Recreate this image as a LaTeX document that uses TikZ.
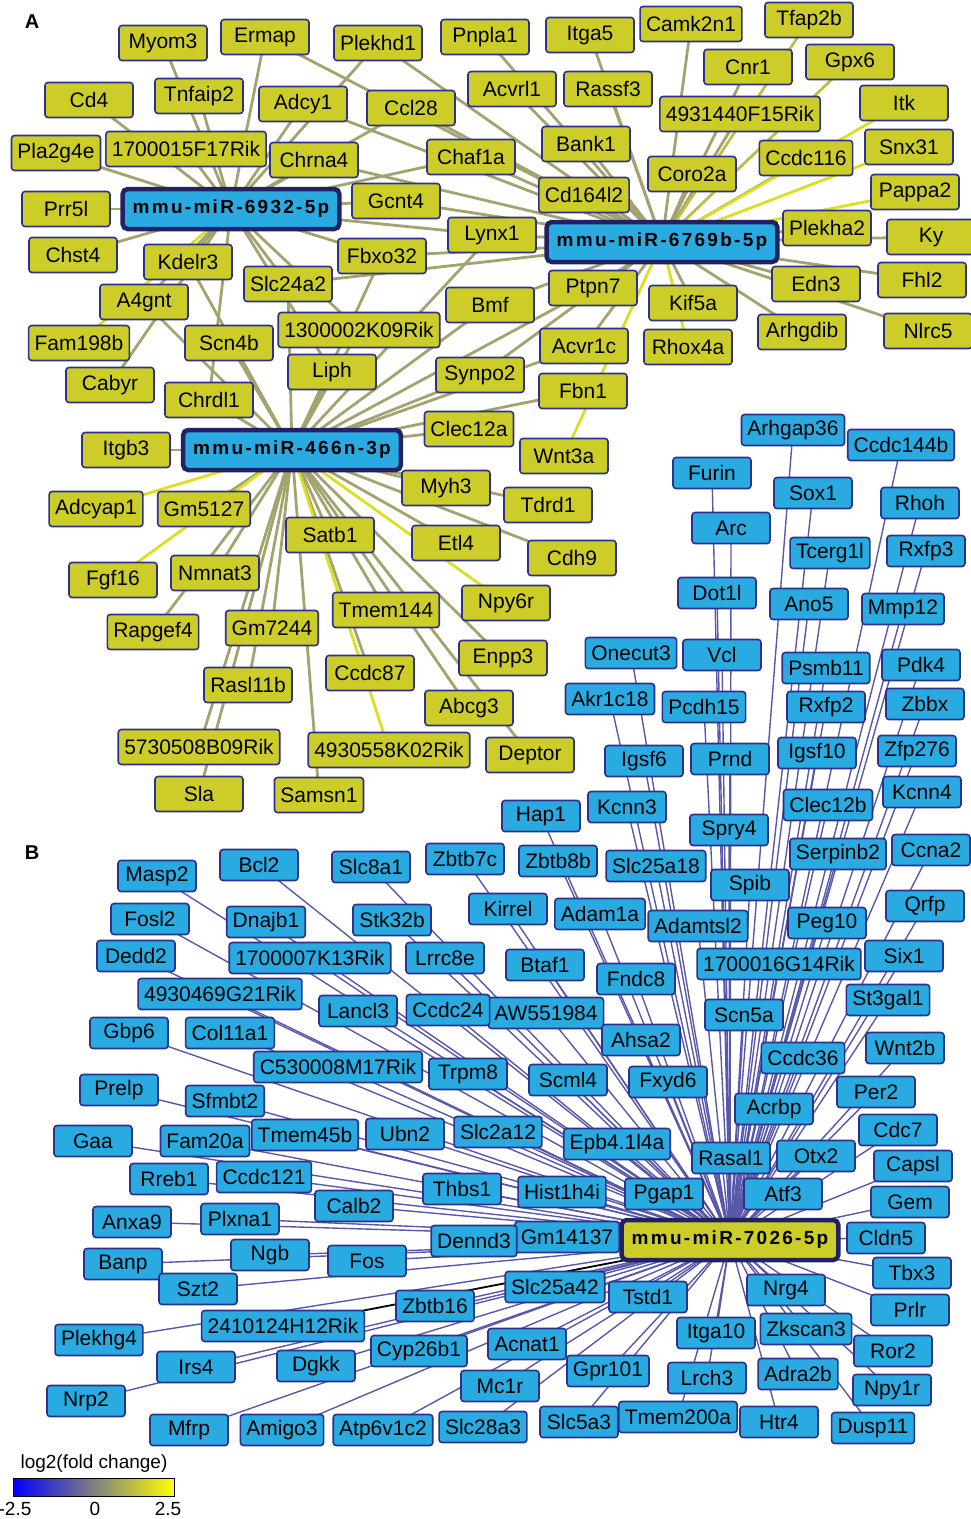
\documentclass[tikz,border=0pt]{standalone}
\usepackage{fontspec}
\setmainfont{Liberation Sans}
\newfontfamily\hubfont[LetterSpace=12]{Liberation Sans}
\usetikzlibrary{positioning,backgrounds}
\definecolor{upfill}{RGB}{205,205,42}
\definecolor{downfill}{RGB}{41,171,226}
\definecolor{rim}{RGB}{46,49,140}
\definecolor{hubrim}{RGB}{33,33,100}
\definecolor{edgeolive}{RGB}{163,163,110}
\definecolor{edgemid}{RGB}{190,190,70}
\definecolor{edgeyellow}{RGB}{222,222,30}
\definecolor{edgeblue}{RGB}{88,88,170}
\definecolor{midgray}{RGB}{128,128,128}

\begin{document}
\begin{tikzpicture} [
    x = 1pt, y = -1pt,
    gene/.style = { draw=rim, line width=1.6pt, rounded corners=3pt, inner xsep=6pt, inner ysep=0pt, font=\fontsize{21}{24}\selectfont },
    upgene/.style = { gene, fill=upfill, minimum width=88pt, minimum height=35pt },
    downgene/.style = { gene, fill=downfill, minimum width=78pt, minimum height=31pt },
    hub/.style = { draw=hubrim, line width=4.5pt, rounded corners=5pt, inner xsep=10pt, inner ysep=0pt, minimum height=40pt, font=\hubfont\bfseries\fontsize{19}{22}\selectfont },
    oedge/.style = { edgeolive, line width=2.8pt },
    medge/.style = { edgemid, line width=2.8pt },
    yedge/.style = { edgeyellow, line width=2.8pt },
    bedge/.style = { edgeblue, line width=1.4pt },
    kedge/.style = { black, line width=1.8pt },
    panel/.style = { font=\bfseries\fontsize{20}{22}\selectfont, inner sep=0 },
    scale label/.style = { font=\fontsize{19}{21}\selectfont, inner sep=0 }
    ]

    \useasboundingbox (0,0) rectangle (971,1519);

    \node[panel] (A) at (32,22) {A};
    \node[panel] (B) at (32,853) {B};

    \node[hub, fill=downfill] (h6932) at (231,209) {mmu-miR-6932-5p};
    \node[hub, fill=downfill] (h6769) at (662,242) {mmu-miR-6769b-5p};
    \node[hub, fill=downfill] (h466) at (292,450) {mmu-miR-466n-3p};
    \node[hub, fill=upfill] (h7026) at (730,1240) {mmu-miR-7026-5p};

    \node[upgene] (myom3) at (163,43) {Myom3};
    \node[upgene] (ermap) at (265,37) {Ermap};
    \node[upgene] (plekhd1) at (378,43) {Plekhd1};
    \node[upgene] (pnpla1) at (485,37) {Pnpla1};
    \node[upgene] (itga5) at (590,35) {Itga5};
    \node[upgene] (camk2n1) at (691,24) {Camk2n1};
    \node[upgene] (tfap2b) at (809,20) {Tfap2b};
    \node[upgene] (cnr1) at (748,67) {Cnr1};
    \node[upgene] (gpx6) at (850,62) {Gpx6};
    \node[upgene] (itk) at (904,103) {Itk};
    \node[upgene] (acvrl1) at (512,89) {Acvrl1};
    \node[upgene] (rassf3) at (608,89) {Rassf3};
    \node[upgene] (rik4931) at (740,114) {4931440F15Rik};
    \node[upgene] (snx31) at (909,147) {Snx31};
    \node[upgene] (ccdc116) at (806,158) {Ccdc116};
    \node[upgene] (bank1) at (586,144) {Bank1};
    \node[upgene] (coro2a) at (692,174) {Coro2a};
    \node[upgene] (cd164l2) at (584,195) {Cd164l2};
    \node[upgene] (pappa2) at (915,192) {Pappa2};
    \node[upgene] (plekha2) at (827,228) {Plekha2};
    \node[upgene] (ky) at (931,237) {Ky};
    \node[upgene] (cd4) at (89,100) {Cd4};
    \node[upgene] (tnfaip2) at (199,96) {Tnfaip2};
    \node[upgene] (adcy1) at (303,104) {Adcy1};
    \node[upgene] (ccl28) at (411,108) {Ccl28};
    \node[upgene] (rik1700f) at (186,149) {1700015F17Rik};
    \node[upgene] (pla2g4e) at (56,153) {Pla2g4e};
    \node[upgene] (chrna4) at (314,160) {Chrna4};
    \node[upgene] (chaf1a) at (471,157) {Chaf1a};
    \node[upgene] (gcnt4) at (396,201) {Gcnt4};
    \node[upgene] (prr5l) at (66,209) {Prr5l};
    \node[upgene] (lynx1) at (492,235) {Lynx1};
    \node[upgene] (chst4) at (73,255) {Chst4};
    \node[upgene] (kdelr3) at (188,262) {Kdelr3};
    \node[upgene] (fbxo32) at (382,256) {Fbxo32};
    \node[upgene] (slc24a2) at (288,284) {Slc24a2};
    \node[upgene] (edn3) at (816,284) {Edn3};
    \node[upgene] (fhl2) at (922,280) {Fhl2};
    \node[upgene] (ptpn7) at (593,288) {Ptpn7};
    \node[upgene] (kif5a) at (693,303) {Kif5a};
    \node[upgene] (bmf) at (490,305) {Bmf};
    \node[upgene] (a4gnt) at (144,302) {A4gnt};
    \node[upgene] (nlrc5) at (928,331) {Nlrc5};
    \node[upgene] (arhgdib) at (802,332) {Arhgdib};
    \node[upgene] (rik1300) at (359,330) {1300002K09Rik};
    \node[upgene] (fam198b) at (79,343) {Fam198b};
    \node[upgene] (scn4b) at (229,343) {Scn4b};
    \node[upgene] (rhox4a) at (688,347) {Rhox4a};
    \node[upgene] (acvr1c) at (584,346) {Acvr1c};
    \node[upgene] (liph) at (332,372) {Liph};
    \node[upgene] (synpo2) at (480,375) {Synpo2};
    \node[upgene] (cabyr) at (110,385) {Cabyr};
    \node[upgene] (chrdl1) at (209,400) {Chrdl1};
    \node[upgene] (fbn1) at (583,391) {Fbn1};
    \node[upgene] (clec12a) at (469,429) {Clec12a};
    \node[upgene] (itgb3) at (126,450) {Itgb3};
    \node[upgene] (wnt3a) at (564,456) {Wnt3a};
    \node[upgene] (myh3) at (446,488) {Myh3};
    \node[upgene] (tdrd1) at (548,505) {Tdrd1};
    \node[upgene] (adcyap1) at (96,509) {Adcyap1};
    \node[upgene] (gm5127) at (204,509) {Gm5127};
    \node[upgene] (satb1) at (330,535) {Satb1};
    \node[upgene] (etl4) at (456,543) {Etl4};
    \node[upgene] (cdh9) at (572,558) {Cdh9};
    \node[upgene] (fgf16) at (113,580) {Fgf16};
    \node[upgene] (nmnat3) at (215,573) {Nmnat3};
    \node[upgene] (npy6r) at (506,603) {Npy6r};
    \node[upgene] (tmem144) at (386,610) {Tmem144};
    \node[upgene] (rapgef4) at (153,632) {Rapgef4};
    \node[upgene] (gm7244) at (272,628) {Gm7244};
    \node[upgene] (enpp3) at (503,658) {Enpp3};
    \node[upgene] (ccdc87) at (370,673) {Ccdc87};
    \node[upgene] (rasl11b) at (248,685) {Rasl11b};
    \node[upgene] (abcg3) at (469,708) {Abcg3};
    \node[upgene] (rik5730) at (199,747) {5730508B09Rik};
    \node[upgene] (rik4930k) at (389,750) {4930558K02Rik};
    \node[upgene] (deptor) at (530,755) {Deptor};
    \node[upgene] (sla) at (199,794) {Sla};
    \node[upgene] (samsn1) at (319,795) {Samsn1};

    \node[downgene] (arhgap36) at (793,430) {Arhgap36};
    \node[downgene] (ccdc144b) at (901,445) {Ccdc144b};
    \node[downgene] (furin) at (712,473) {Furin};
    \node[downgene] (sox1) at (813,493) {Sox1};
    \node[downgene] (rhoh) at (920,503) {Rhoh};
    \node[downgene] (arc) at (731,528) {Arc};
    \node[downgene] (tcerg1l) at (830,553) {Tcerg1l};
    \node[downgene] (rxfp3) at (926,551) {Rxfp3};
    \node[downgene] (dot1l) at (717,593) {Dot1l};
    \node[downgene] (ano5) at (809,604) {Ano5};
    \node[downgene] (mmp12) at (903,609) {Mmp12};
    \node[downgene] (onecut3) at (631,653) {Onecut3};
    \node[downgene] (vcl) at (722,655) {Vcl};
    \node[downgene] (psmb11) at (826,668) {Psmb11};
    \node[downgene] (pdk4) at (921,665) {Pdk4};
    \node[downgene] (akr1c18) at (610,699) {Akr1c18};
    \node[downgene] (pcdh15) at (704,707) {Pcdh15};
    \node[downgene] (rxfp2) at (826,707) {Rxfp2};
    \node[downgene] (zbbx) at (925,704) {Zbbx};
    \node[downgene] (igsf6) at (644,761) {Igsf6};
    \node[downgene] (prnd) at (730,759) {Prnd};
    \node[downgene] (igsf10) at (817,753) {Igsf10};
    \node[downgene] (zfp276) at (917,751) {Zfp276};
    \node[downgene] (kcnn3) at (627,807) {Kcnn3};
    \node[downgene] (hap1) at (541,816) {Hap1};
    \node[downgene] (clec12b) at (828,805) {Clec12b};
    \node[downgene] (kcnn4) at (922,792) {Kcnn4};
    \node[downgene] (spry4) at (729,830) {Spry4};
    \node[downgene] (serpinb2) at (838,854) {Serpinb2};
    \node[downgene] (ccna2) at (931,850) {Ccna2};
    \node[downgene] (zbtb7c) at (465,859) {Zbtb7c};
    \node[downgene] (zbtb8b) at (558,861) {Zbtb8b};
    \node[downgene] (slc25a18) at (656,866) {Slc25a18};
    \node[downgene] (spib) at (750,885) {Spib};
    \node[downgene] (qrfp) at (925,906) {Qrfp};
    \node[downgene] (kirrel) at (508,909) {Kirrel};
    \node[downgene] (adam1a) at (600,914) {Adam1a};
    \node[downgene] (adamtsl2) at (698,926) {Adamtsl2};
    \node[downgene] (peg10) at (827,923) {Peg10};
    \node[downgene] (six1) at (904,956) {Six1};
    \node[downgene] (btaf1) at (545,965) {Btaf1};
    \node[downgene] (fndc8) at (636,979) {Fndc8};
    \node[downgene] (rik1700g) at (779,964) {1700016G14Rik};
    \node[downgene] (st3gal1) at (888,1000) {St3gal1};
    \node[downgene] (aw551984) at (546,1013) {AW551984};
    \node[downgene] (scn5a) at (744,1015) {Scn5a};
    \node[downgene] (ahsa2) at (641,1040) {Ahsa2};
    \node[downgene] (ccdc36) at (803,1058) {Ccdc36};
    \node[downgene] (wnt2b) at (905,1048) {Wnt2b};
    \node[downgene] (fxyd6) at (668,1082) {Fxyd6};
    \node[downgene] (scml4) at (568,1080) {Scml4};
    \node[downgene] (per2) at (876,1092) {Per2};
    \node[downgene] (acrbp) at (774,1109) {Acrbp};
    \node[downgene] (cdc7) at (898,1130) {Cdc7};
    \node[downgene] (epb) at (617,1144) {Epb4.1l4a};
    \node[downgene] (rasal1) at (731,1158) {Rasal1};
    \node[downgene] (otx2) at (816,1156) {Otx2};
    \node[downgene] (capsl) at (913,1166) {Capsl};
    \node[downgene] (hist1h4i) at (562,1192) {Hist1h4i};
    \node[downgene] (pgap1) at (664,1194) {Pgap1};
    \node[downgene] (atf3) at (783,1194) {Atf3};
    \node[downgene] (gem) at (910,1202) {Gem};
    \node[downgene] (gm14137) at (567,1237) {Gm14137};
    \node[downgene] (cldn5) at (886,1238) {Cldn5};
    \node[downgene] (tbx3) at (912,1273) {Tbx3};
    \node[downgene] (slc25a42) at (555,1287) {Slc25a42};
    \node[downgene] (tstd1) at (648,1297) {Tstd1};
    \node[downgene] (nrg4) at (786,1290) {Nrg4};
    \node[downgene] (prlr) at (910,1310) {Prlr};
    \node[downgene] (itga10) at (716,1333) {Itga10};
    \node[downgene] (zkscan3) at (806,1329) {Zkscan3};
    \node[downgene] (ror2) at (893,1351) {Ror2};
    \node[downgene] (acnat1) at (527,1344) {Acnat1};
    \node[downgene] (gpr101) at (608,1371) {Gpr101};
    \node[downgene] (lrch3) at (707,1378) {Lrch3};
    \node[downgene] (adra2b) at (798,1374) {Adra2b};
    \node[downgene] (npy1r) at (892,1390) {Npy1r};
    \node[downgene] (mc1r) at (500,1386) {Mc1r};
    \node[downgene] (slc28a3) at (483,1427) {Slc28a3};
    \node[downgene] (slc5a3) at (579,1422) {Slc5a3};
    \node[downgene] (tmem200a) at (678,1417) {Tmem200a};
    \node[downgene] (htr4) at (779,1422) {Htr4};
    \node[downgene] (dusp11) at (873,1428) {Dusp11};
    \node[downgene] (masp2) at (157,876) {Masp2};
    \node[downgene] (bcl2) at (259,865) {Bcl2};
    \node[downgene] (slc8a1) at (371,867) {Slc8a1};
    \node[downgene] (fosl2) at (150,919) {Fosl2};
    \node[downgene] (dnajb1) at (266,922) {Dnajb1};
    \node[downgene] (stk32b) at (392,920) {Stk32b};
    \node[downgene] (dedd2) at (136,956) {Dedd2};
    \node[downgene] (rik1700k) at (310,958) {1700007K13Rik};
    \node[downgene] (lrrc8e) at (445,958) {Lrrc8e};
    \node[downgene] (rik4930g) at (220,994) {4930469G21Rik};
    \node[downgene] (lancl3) at (358,1011) {Lancl3};
    \node[downgene] (ccdc24) at (448,1010) {Ccdc24};
    \node[downgene] (gbp6) at (129,1033) {Gbp6};
    \node[downgene] (col11a1) at (230,1033) {Col11a1};
    \node[downgene] (rikc530) at (338,1067) {C530008M17Rik};
    \node[downgene] (trpm8) at (468,1074) {Trpm8};
    \node[downgene] (prelp) at (119,1090) {Prelp};
    \node[downgene] (sfmbt2) at (225,1101) {Sfmbt2};
    \node[downgene] (tmem45b) at (305,1135) {Tmem45b};
    \node[downgene] (ubn2) at (405,1134) {Ubn2};
    \node[downgene] (slc2a12) at (498,1132) {Slc2a12};
    \node[downgene] (gaa) at (93,1141) {Gaa};
    \node[downgene] (fam20a) at (205,1141) {Fam20a};
    \node[downgene] (rreb1) at (169,1179) {Rreb1};
    \node[downgene] (ccdc121) at (264,1177) {Ccdc121};
    \node[downgene] (thbs1) at (462,1189) {Thbs1};
    \node[downgene] (calb2) at (354,1206) {Calb2};
    \node[downgene] (anxa9) at (132,1222) {Anxa9};
    \node[downgene] (plxna1) at (240,1219) {Plxna1};
    \node[downgene] (dennd3) at (474,1241) {Dennd3};
    \node[downgene] (ngb) at (270,1255) {Ngb};
    \node[downgene] (fos) at (367,1261) {Fos};
    \node[downgene] (banp) at (123,1264) {Banp};
    \node[downgene] (szt2) at (198,1289) {Szt2};
    \node[downgene] (zbtb16) at (435,1306) {Zbtb16};
    \node[downgene] (rik2410) at (283,1326) {2410124H12Rik};
    \node[downgene] (plekhg4) at (99,1340) {Plekhg4};
    \node[downgene] (cyp26b1) at (419,1351) {Cyp26b1};
    \node[downgene] (irs4) at (196,1367) {Irs4};
    \node[downgene] (dgkk) at (316,1366) {Dgkk};
    \node[downgene] (nrp2) at (86,1401) {Nrp2};
    \node[downgene] (mfrp) at (189,1430) {Mfrp};
    \node[downgene] (amigo3) at (282,1430) {Amigo3};
    \node[downgene] (atp6v1c2) at (383,1430) {Atp6v1c2};

    \begin{pgfonlayer}{background}
    \foreach \g in {myom3,cd4,tnfaip2,ermap,plekhd1,pla2g4e,rik1700f,adcy1,chrna4,ccl28,prr5l,chst4,kdelr3,gcnt4,fbxo32,lynx1,slc24a2,a4gnt,cabyr,chrdl1,chaf1a,rik1300,liph}
        \draw[oedge] (h6932.center) -- (\g.center);
    \draw[yedge] (h6932.center) -- (fam198b.center);
    \foreach \g in {pnpla1,itga5,camk2n1,cnr1,acvrl1,rassf3,rik4931,ccdc116,bank1,coro2a,cd164l2,plekha2,ky,chaf1a,lynx1,gcnt4,ccl28,chrna4,ermap,plekhd1,fbxo32,edn3,fhl2,nlrc5,arhgdib,ptpn7,kif5a,bmf,acvr1c,synpo2,adcy1,slc24a2}
        \draw[oedge] (h6769.center) -- (\g.center);
    \foreach \g in {tfap2b,gpx6}
        \draw[medge] (h6769.center) -- (\g.center);
    \foreach \g in {itk,snx31,pappa2,rhox4a,wnt3a}
        \draw[yedge] (h6769.center) -- (\g.center);
    \foreach \g in {itgb3,gm5127,nmnat3,rapgef4,gm7244,rasl11b,rik5730,sla,samsn1,ccdc87,satb1,etl4,enpp3,abcg3,deptor,cdh9,tdrd1,myh3,clec12a,synpo2,liph,rik1300,chrdl1,scn4b,a4gnt,kdelr3,slc24a2,fbxo32,acvr1c,ptpn7,bmf,fbn1,lynx1,tmem144}
        \draw[oedge] (h466.center) -- (\g.center);
    \foreach \g in {adcyap1,fgf16,rik4930k,npy6r}
        \draw[yedge] (h466.center) -- (\g.center);
    \foreach \g in {arhgap36,ccdc144b,furin,sox1,rhoh,arc,tcerg1l,rxfp3,dot1l,ano5,mmp12,onecut3,vcl,psmb11,pdk4,akr1c18,pcdh15,rxfp2,zbbx,igsf6,prnd,igsf10,zfp276,kcnn3,hap1,clec12b,kcnn4,spry4,serpinb2,ccna2,zbtb7c,zbtb8b,slc25a18,spib,qrfp,kirrel,adam1a,adamtsl2,peg10,six1,btaf1,fndc8,rik1700g,st3gal1,aw551984,scn5a,ahsa2,ccdc36,wnt2b,fxyd6,scml4,per2,acrbp,cdc7,epb,rasal1,otx2,capsl,hist1h4i,pgap1,atf3,gem,gm14137,cldn5,tbx3,slc25a42,tstd1,nrg4,prlr,itga10,zkscan3,ror2,acnat1,gpr101,lrch3,adra2b,npy1r,mc1r,slc28a3,slc5a3,tmem200a,htr4,dusp11}
        \draw[bedge] (h7026.center) -- (\g.center);
    \foreach \g in {masp2,bcl2,slc8a1,fosl2,dnajb1,stk32b,dedd2,rik1700k,lrrc8e,rik4930g,lancl3,ccdc24,gbp6,col11a1,rikc530,trpm8,prelp,sfmbt2,tmem45b,ubn2,slc2a12,gaa,fam20a,rreb1,ccdc121,thbs1,calb2,anxa9,plxna1,dennd3,ngb,fos,banp,szt2,zbtb16,plekhg4,cyp26b1,irs4,dgkk,nrp2,mfrp,amigo3,atp6v1c2}
        \draw[bedge] (h7026.center) -- (\g.center);
    \draw[kedge] (h7026.center) -- (rik2410.center);
    \end{pgfonlayer}

    \node[scale label] (scaletitle) at (94,1464) {log2(fold change)};
    \shade[left color=blue, right color=midgray] (13,1478) rectangle (94,1496);
    \shade[left color=midgray, right color=yellow] (94,1478) rectangle (174,1496);
    \draw[line width=1pt] (13,1478) rectangle (174,1496);
    \node[scale label] (scalelow) at (15,1509) {-2.5};
    \node[scale label] (scalemid) at (95,1509) {0};
    \node[scale label] (scalehigh) at (168,1509) {2.5};
\end{tikzpicture}
\end{document}
